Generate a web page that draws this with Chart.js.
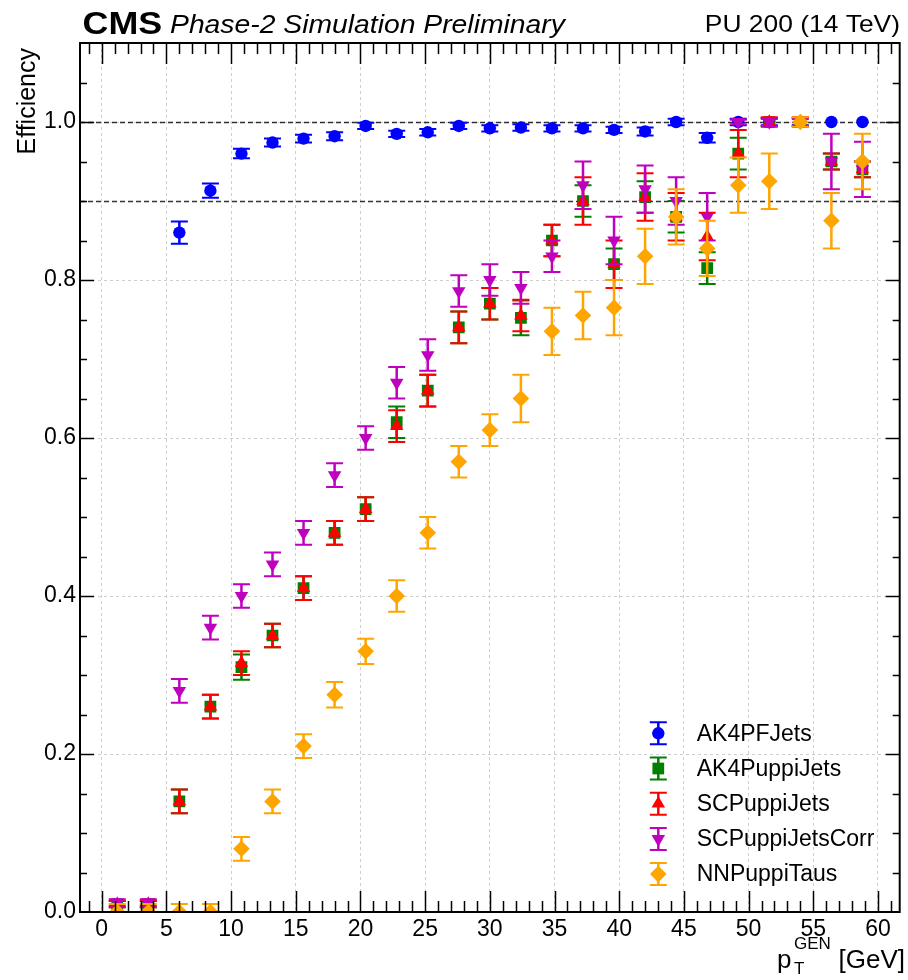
<!DOCTYPE html>
<html>
<head>
<meta charset="utf-8">
<title>Jet / tau trigger efficiency vs gen pT</title>
<script src="https://cdn.jsdelivr.net/npm/chart.js@4.4.1/dist/chart.umd.min.js"></script>
<style>
  html, body { margin: 0; padding: 0; background: #fff; }
  #wrap { width: 908px; height: 980px; }
</style>
</head>
<body>
<div id="wrap"><canvas id="effChart" width="908" height="980"></canvas></div>
<script>
// gen-level pT bin centres [GeV]
const ptBins = [1.2, 3.6, 6.0, 8.4, 10.8, 13.2, 15.6, 18.0, 20.4, 22.8, 25.2, 27.6, 30.0,
                32.4, 34.8, 37.2, 39.6, 42.0, 44.4, 46.8, 49.2, 51.6, 54.0, 56.4, 58.8];

// efficiencies and their uncertainties per collection
const ak4PFJets      = [null, null, 0.860, 0.913, 0.960, 0.974, 0.979, 0.982, 0.995, 0.985, 0.987, 0.995, 0.992,
                        0.993, 0.992, 0.992, 0.990, 0.988, 1.000, 0.980, 1.000, 1.000, 1.000, 1.000, 1.000];
const ak4PFJetsErr   = [0, 0, 0.014, 0.009, 0.006, 0.005, 0.005, 0.005, 0.004, 0.004, 0.004, 0.004, 0.004,
                        0.004, 0.004, 0.004, 0.004, 0.005, 0.004, 0.006, 0.004, 0.004, 0.004, 0, 0];

const ak4PuppiJets    = [0.010, 0.010, 0.140, 0.260, 0.310, 0.350, 0.410, 0.480, 0.510, 0.620, 0.660, 0.740, 0.770,
                         0.752, 0.850, 0.900, 0.820, 0.905, 0.880, 0.815, 0.960, 1.000, 1.000, 0.950, 0.940];
const ak4PuppiJetsErr = [0.004, 0.004, 0.015, 0.015, 0.016, 0.015, 0.015, 0.015, 0.015, 0.020, 0.020, 0.020, 0.020,
                         0.022, 0.020, 0.020, 0.020, 0.020, 0.020, 0.020, 0.020, 0.005, 0.005, 0.010, 0.010];

const scPuppiJets    = [0.010, 0.010, 0.140, 0.260, 0.315, 0.350, 0.410, 0.480, 0.510, 0.615, 0.660, 0.740, 0.770,
                        0.755, 0.850, 0.900, 0.820, 0.905, 0.880, 0.855, 0.960, 1.000, 1.000, 0.950, 0.940];
const scPuppiJetsErr = [0.004, 0.004, 0.015, 0.015, 0.015, 0.015, 0.015, 0.015, 0.015, 0.020, 0.020, 0.020, 0.020,
                        0.020, 0.020, 0.030, 0.030, 0.030, 0.030, 0.030, 0.030, 0.006, 0.006, 0.010, 0.010];

const scPuppiJetsCorr    = [0.012, 0.012, 0.280, 0.360, 0.400, 0.440, 0.480, 0.553, 0.600, 0.670, 0.705, 0.786, 0.800,
                            0.790, 0.830, 0.920, 0.850, 0.915, 0.900, 0.880, 1.000, 1.000, 1.000, 0.950, 0.940];
const scPuppiJetsCorrErr = [0.004, 0.004, 0.015, 0.015, 0.015, 0.015, 0.015, 0.015, 0.015, 0.020, 0.020, 0.020, 0.020,
                            0.020, 0.020, 0.030, 0.030, 0.030, 0.030, 0.030, 0.003, 0.005, 0.005, 0.035, 0.035];

const nnPuppiTaus    = [0.000, 0.000, 0.000, 0.000, 0.080, 0.140, 0.210, 0.275, 0.330, 0.400, 0.480, 0.570, 0.610,
                        0.650, 0.735, 0.755, 0.765, 0.830, 0.880, 0.840, 0.920, 0.925, 1.000, 0.875, 0.950];
const nnPuppiTausErr = [0.010, 0.010, 0.010, 0.010, 0.015, 0.015, 0.015, 0.016, 0.016, 0.020, 0.020, 0.020, 0.020,
                        0.030, 0.030, 0.030, 0.035, 0.035, 0.035, 0.035, 0.035, 0.035, 0.006, 0.035, 0.035];

// axis ticks and reference levels
const xTicks = [0, 5, 10, 15, 20, 25, 30, 35, 40, 45, 50, 55, 60];
const yTicks = [0.0, 0.2, 0.4, 0.6, 0.8, 1.0];
const refLines = [1.0, 0.9];

const FONT = "'Liberation Sans', Arial, Helvetica, sans-serif";

const series = [
  { label: 'AK4PFJets',       values: ak4PFJets,       errors: ak4PFJetsErr,       color: '#0000ff', style: 'circle',   radius: 6.2, rotation: 0 },
  { label: 'AK4PuppiJets',    values: ak4PuppiJets,    errors: ak4PuppiJetsErr,    color: '#008000', style: 'rect',     radius: 8.3, rotation: 0 },
  { label: 'SCPuppiJets',     values: scPuppiJets,     errors: scPuppiJetsErr,     color: '#ff0000', style: 'triangle', radius: 7.8, rotation: 0 },
  { label: 'SCPuppiJetsCorr', values: scPuppiJetsCorr, errors: scPuppiJetsCorrErr, color: '#bf00bf', style: 'triangle', radius: 7.8, rotation: 180 },
  { label: 'NNPuppiTaus',     values: nnPuppiTaus,     errors: nnPuppiTausErr,     color: '#ffa500', style: 'rectRot',  radius: 8.3, rotation: 0 }
];

// vertical error bars with caps, drawn right before each dataset's markers
const errorBars = {
  id: 'errorBars',
  beforeDatasetDraw(chart, args) {
    const ds = chart.data.datasets[args.index];
    const { ctx, chartArea: a } = chart;
    const xs = chart.scales.x, ys = chart.scales.y;
    ctx.save();
    ctx.beginPath();
    ctx.rect(a.left, a.top, a.right - a.left, a.bottom - a.top);
    ctx.clip();
    ctx.strokeStyle = ds.backgroundColor;
    ds.data.forEach((p, k) => {
      const e = ds.errors[k];
      if (p.y === null || !e) return;
      const px = xs.getPixelForValue(p.x);
      const lo = ys.getPixelForValue(p.y - e);
      const hi = ys.getPixelForValue(p.y + e);
      ctx.lineWidth = 2.5;
      ctx.beginPath(); ctx.moveTo(px, lo); ctx.lineTo(px, hi); ctx.stroke();
      ctx.lineWidth = 2;
      ctx.beginPath();
      ctx.moveTo(px - 8.5, lo); ctx.lineTo(px + 8.5, lo);
      ctx.moveTo(px - 8.5, hi); ctx.lineTo(px + 8.5, hi);
      ctx.stroke();
    });
    ctx.restore();
  }
};

// dashed 100% / 90% reference lines under the markers
const referenceLines = {
  id: 'referenceLines',
  beforeDatasetsDraw(chart) {
    const { ctx, chartArea: a } = chart;
    ctx.save();
    ctx.strokeStyle = 'rgba(0,0,0,0.8)';
    ctx.lineWidth = 1.3;
    ctx.setLineDash([5, 3]);
    refLines.forEach(v => {
      const py = Math.round(chart.scales.y.getPixelForValue(v)) + 0.5;
      ctx.beginPath(); ctx.moveTo(a.left, py); ctx.lineTo(a.right, py); ctx.stroke();
    });
    ctx.restore();
  }
};

function stretchedText(ctx, text, x, y, font, sx, align) {
  ctx.save();
  ctx.translate(x, y);
  ctx.scale(sx, 1);
  ctx.font = font;
  ctx.textAlign = align || 'left';
  ctx.textBaseline = 'alphabetic';
  ctx.fillText(text, 0, 0);
  ctx.restore();
}

function drawMarker(ctx, s, x, y) {
  ctx.fillStyle = s.color;
  if (Chart.helpers && Chart.helpers.drawPoint) {
    Chart.helpers.drawPoint(ctx, { pointStyle: s.style, radius: s.radius, rotation: s.rotation, borderWidth: 0 }, x, y);
  } else {
    ctx.beginPath(); ctx.arc(x, y, s.radius, 0, Math.PI * 2); ctx.fill();
  }
}

// frame, inward ticks on all sides, labels, header and legend
const decorations = {
  id: 'decorations',
  afterDraw(chart) {
    const { ctx, chartArea: a } = chart;
    const xs = chart.scales.x, ys = chart.scales.y;
    ctx.save();
    ctx.strokeStyle = '#000';
    ctx.fillStyle = '#000';

    // x ticks: major every 5, minor every 1
    ctx.lineWidth = 1.5;
    ctx.beginPath();
    for (let v = Math.ceil(xs.min); v <= xs.max; v++) {
      const px = Math.round(xs.getPixelForValue(v)) + 0.5;
      const len = v % 5 === 0 ? 21 : 11;
      ctx.moveTo(px, a.bottom); ctx.lineTo(px, a.bottom - len);
      ctx.moveTo(px, a.top); ctx.lineTo(px, a.top + len);
    }
    // y ticks: major every 0.2, minor every 0.05
    for (let i = 1; i * 0.05 < ys.max; i++) {
      const v = i * 0.05;
      const py = Math.round(ys.getPixelForValue(v)) + 0.5;
      const len = i % 4 === 0 ? 14 : 7;
      ctx.moveTo(a.left, py); ctx.lineTo(a.left + len, py);
      ctx.moveTo(a.right, py); ctx.lineTo(a.right - len, py);
    }
    ctx.stroke();

    // frame
    ctx.lineWidth = 2;
    ctx.strokeRect(a.left, a.top, a.right - a.left, a.bottom - a.top);

    // header
    stretchedText(ctx, 'CMS', 82.5, 34.3, `bold 32px ${FONT}`, 1.12);
    stretchedText(ctx, 'Phase-2 Simulation Preliminary', 170, 33.3, `italic 25.5px ${FONT}`, 1.11);
    stretchedText(ctx, 'PU 200 (14 TeV)', 900, 32.3, `24px ${FONT}`, 1.1, 'right');

    // y title, aligned to the top of the axis
    ctx.save();
    ctx.translate(35, 48);
    ctx.rotate(-Math.PI / 2);
    ctx.font = `25px ${FONT}`;
    ctx.textAlign = 'right';
    ctx.textBaseline = 'alphabetic';
    ctx.fillText('Efficiency', 0, 0);
    ctx.restore();

    // x title p_T^GEN [GeV], aligned to the right end of the axis
    ctx.textBaseline = 'alphabetic';
    ctx.textAlign = 'right';
    ctx.font = `26px ${FONT}`;
    ctx.fillText('[GeV]', 905, 968);
    ctx.textAlign = 'left';
    ctx.fillText('p', 777, 968);
    ctx.font = `17px ${FONT}`;
    ctx.fillText('GEN', 794, 949);
    ctx.fillText('T', 794, 974);

    // legend
    const lx = 658.3, ly0 = 733.3, dy = 35.2;
    series.forEach((s, i) => {
      const y = ly0 + i * dy;
      ctx.strokeStyle = s.color;
      ctx.lineWidth = 2.5;
      ctx.beginPath(); ctx.moveTo(lx, y - 11); ctx.lineTo(lx, y + 11); ctx.stroke();
      ctx.lineWidth = 2;
      ctx.beginPath();
      ctx.moveTo(lx - 8.5, y - 11); ctx.lineTo(lx + 8.5, y - 11);
      ctx.moveTo(lx - 8.5, y + 11); ctx.lineTo(lx + 8.5, y + 11);
      ctx.stroke();
      drawMarker(ctx, s, lx, y);
      ctx.fillStyle = '#000';
      ctx.font = `23px ${FONT}`;
      ctx.textAlign = 'left';
      ctx.textBaseline = 'middle';
      ctx.fillText(s.label, 696.7, y + 1);
    });
    ctx.restore();
  }
};

const datasets = series.map((s, i) => ({
  label: s.label,
  data: ptBins.map((x, k) => ({ x: x, y: s.values[k] })),
  errors: s.errors,
  order: series.length - i,
  showLine: false,
  backgroundColor: s.color,
  borderColor: s.color,
  borderWidth: 0,
  pointStyle: s.style,
  pointRadius: s.radius,
  pointHoverRadius: s.radius,
  pointRotation: s.rotation,
  pointBorderWidth: 0
}));

const gridStyle = { color: '#cfcfcf', lineWidth: 1, drawTicks: false, drawOnChartArea: true };

new Chart(document.getElementById('effChart').getContext('2d'), {
  type: 'scatter',
  data: { datasets: datasets },
  options: {
    responsive: false,
    animation: false,
    devicePixelRatio: 1,
    layout: { padding: { top: 43, right: 3, left: 0, bottom: 0 } },
    scales: {
      x: {
        type: 'linear',
        min: -1.68,
        max: 61.68,
        grid: gridStyle,
        border: { display: false, dash: [3, 3] },
        afterBuildTicks: s => { s.ticks = xTicks.map(v => ({ value: v })); },
        afterFit: s => { s.height = 68; },
        ticks: {
          color: '#000',
          font: { family: FONT, size: 23 },
          padding: 4,
          maxRotation: 0,
          autoSkip: false,
          callback: v => String(v)
        }
      },
      y: {
        type: 'linear',
        min: 0,
        max: 1.1,
        grid: gridStyle,
        border: { display: false, dash: [3, 3] },
        afterBuildTicks: s => { s.ticks = yTicks.map(v => ({ value: v })); },
        afterFit: s => { s.width = 80; },
        ticks: {
          color: '#000',
          font: { family: FONT, size: 23 },
          padding: 4,
          callback: v => Number(v).toFixed(1)
        }
      }
    },
    plugins: {
      legend: { display: false },
      tooltip: { enabled: false }
    }
  },
  plugins: [referenceLines, errorBars, decorations]
});
</script>
</body>
</html>
